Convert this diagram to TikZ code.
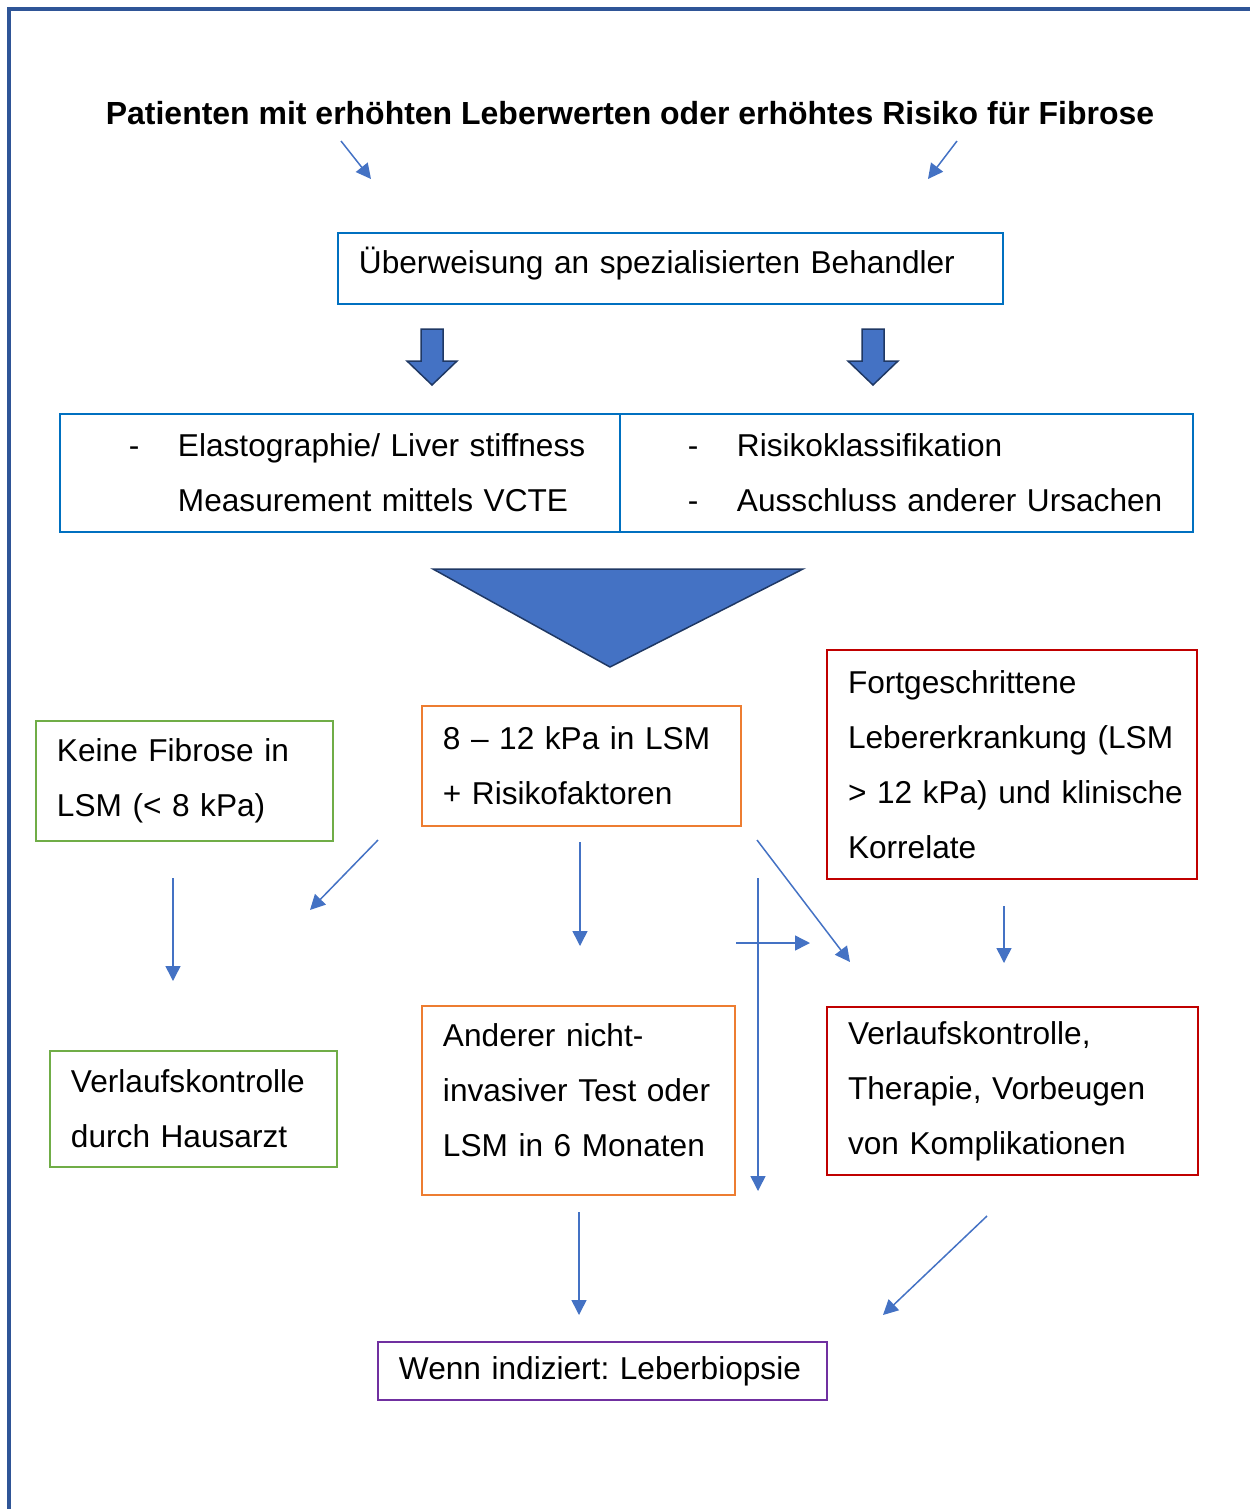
\documentclass[tikz,border=0pt]{standalone}
\usepackage{fontspec}
\setmainfont{Liberation Sans}
\usetikzlibrary{arrows.meta}
\definecolor{frameblue}{HTML}{2F5597}
\definecolor{arrowblue}{HTML}{4472C4}
\definecolor{navy}{HTML}{1F3864}
\definecolor{boxblue}{HTML}{0070C0}
\definecolor{boxgreen}{HTML}{70AD47}
\definecolor{boxorange}{HTML}{ED7D31}
\definecolor{boxred}{HTML}{C00000}
\definecolor{boxpurple}{HTML}{7030A0}
\tikzset{
  txt/.style={font=\fontsize{18}{31.3}\selectfont},
  box/.style={txt, draw, line width=0.04cm, anchor=north west, align=left,
    inner xsep=0pt, inner ysep=0pt,
    execute at begin node={\leftskip=0.42cm\frenchspacing\hyphenpenalty=10000}},
  arr/.style={draw=arrowblue, line width=0.03cm,
    -{Triangle[length=0.3cm,width=0.3cm]}},
  blockarr/.style={fill=arrowblue, draw=navy, line width=0.03cm, line join=miter}
}
\begin{document}
\begin{tikzpicture}[x=0.02cm,y=-0.02cm]
\useasboundingbox (0,0) rectangle (1250,1509);
\draw[frameblue, line width=0.08cm] (9,1509) -- (9,9) -- (1250,9);

\node[txt, font=\fontsize{18.2}{31.3}\selectfont\bfseries] (title) at (630,113)
  {Patienten mit erhöhten Leberwerten oder erhöhtes Risiko für Fibrose};

\node[box, boxblue, text=black, text width=13.3cm, minimum height=1.42cm, text depth=9.5pt] (referral) at (337,232)
  {Überweisung an spezialisierten Behandler};

\node[box, boxblue, text=black, text width=11.2cm, minimum height=2.36cm] (elasto) at (59,413)
  {\hspace*{0.96cm}\makebox[0.98cm][l]{-}Elastographie/ Liver stiffness\\
   \hspace*{1.94cm}Measurement mittels VCTE};
\node[box, boxblue, text=black, text width=11.46cm, minimum height=2.36cm] (risk) at (619,413)
  {\hspace*{0.94cm}\makebox[0.98cm][l]{-}Risikoklassifikation\\
   \hspace*{0.94cm}\makebox[0.98cm][l]{-}Ausschluss anderer Ursachen};

\node[box, boxgreen, text=black, text width=5.94cm, minimum height=2.4cm] (nofib) at (35,720)
  {Keine Fibrose in\\ LSM (< 8 kPa)};
\node[box, boxorange, text=black, text width=6.38cm, minimum height=2.4cm] (mid) at (421,705)
  {8 – 12 kPa in LSM\\ + Risikofaktoren};
\node[box, boxred, text=black, text width=7.4cm, minimum height=4.58cm] (adv) at (826,649)
  {Fortgeschrittene\\ Lebererkrankung (LSM\\ > 12 kPa) und klinische\\ Korrelate};

\node[box, boxgreen, text=black, text width=5.74cm, minimum height=2.32cm] (gp) at (49,1050)
  {Verlaufskontrolle\\ durch Hausarzt};
\node[box, boxorange, text=black, text width=6.26cm, minimum height=3.78cm, text depth=74pt] (retest) at (421,1005)
  {Anderer nicht-\\ invasiver Test oder\\ LSM in 6 Monaten};
\node[box, boxred, text=black, text width=7.42cm, minimum height=3.36cm] (followup) at (826,1006)
  {Verlaufskontrolle,\\ Therapie, Vorbeugen\\ von Komplikationen};

\node[box, boxpurple, text=black, text width=8.98cm, minimum height=1.16cm] (biopsy) at (377,1341)
  {Wenn indiziert: Leberbiopsie};

% block arrows
\foreach \x in {432,873}
  \draw[blockarr] (\x-11,329) -- ++(22,0) -- ++(0,32) -- ++(14,0)
    -- (\x,385) -- (\x-25,361) -- ++(14,0) -- cycle;
\draw[blockarr] (433,569) -- (803,569) -- (610,667) -- cycle;

% thin arrows
\coordinate (t1) at (341,141); \coordinate (t1e) at (371,179);
\coordinate (t2) at (957,141); \coordinate (t2e) at (928,179);
\draw[arr] (t1) -- (t1e);
\draw[arr] (t2) -- (t2e);

\coordinate (n1) at (378,840); \coordinate (n1e) at (310,910);
\coordinate (n2) at (173,878); \coordinate (n2e) at (173,981);
\coordinate (m1) at (580,842); \coordinate (m1e) at (580,946);
\coordinate (m2) at (758,878); \coordinate (m2e) at (758,1191);
\coordinate (m3) at (736,943); \coordinate (m3e) at (810,943);
\coordinate (m4) at (757,840); \coordinate (m4e) at (850,962);
\coordinate (a1) at (1004,906); \coordinate (a1e) at (1004,963);
\coordinate (r1) at (579,1212); \coordinate (r1e) at (579,1315);
\coordinate (f1) at (987,1216); \coordinate (f1e) at (883,1315);
\foreach \s in {n1,n2,m1,m2,m3,m4,a1,r1,f1}
  \draw[arr] (\s) -- (\s e);
\end{tikzpicture}
\end{document}
